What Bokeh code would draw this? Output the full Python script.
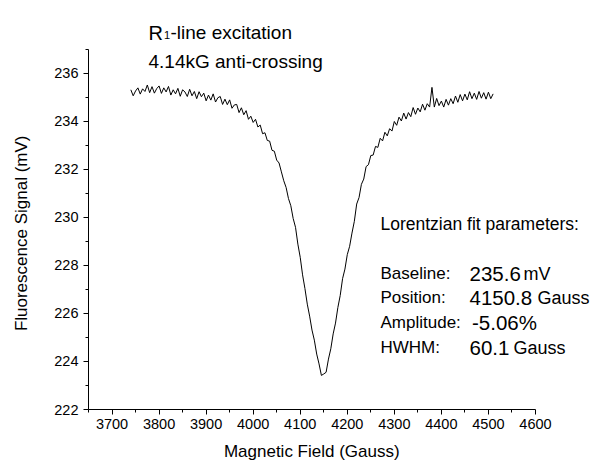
import numpy as np
from bokeh.plotting import figure
from bokeh.models import Range1d, FixedTicker, Label
from bokeh.embed import file_html
from bokeh.resources import INLINE

# ---------------- data ----------------
field_start = 3740
field_step = 5
signal_mv = [
    # 3740 - 4060
    235.32, 235.07, 235.27, 235.40, 235.14, 235.36, 235.25, 235.52, 235.20, 235.45,
    235.18, 235.37, 235.48, 235.17, 235.40, 235.23, 235.46, 235.10, 235.32, 235.15,
    235.38, 235.05, 235.32, 235.23, 235.04, 235.34, 235.07, 235.25, 234.95, 235.24,
    235.03, 235.18, 234.86, 235.10, 234.89, 235.15, 234.81, 234.99, 235.04, 234.71,
    234.93, 234.70, 234.90, 234.55, 234.69, 234.71, 234.37, 234.57, 234.28, 234.45,
    234.09, 234.22, 233.96, 234.09, 233.77, 233.85, 233.49, 233.53, 233.21, 233.18,
    232.80, 232.76, 232.39, 232.27, 231.90,
    # 4065 - 4235
    231.53, 231.25, 230.79, 230.49, 229.96, 229.59, 228.89, 228.34, 227.61, 227.04,
    226.39, 225.89, 225.31, 224.89, 224.31, 223.90, 223.42, 223.48, 223.55, 224.10,
    224.53, 225.15, 225.60, 226.25, 226.75, 227.45, 227.85, 228.45, 228.80, 229.35,
    229.84, 230.56, 230.83, 231.38, 231.60,
    # 4240 - 4510
    232.12, 232.20, 232.58, 232.60, 232.96, 232.92, 233.30, 233.19, 233.55, 233.40,
    233.70, 233.60, 234.00, 233.84, 234.18, 234.02, 234.35, 234.10, 234.37, 234.20,
    234.58, 234.30, 234.56, 234.40, 234.72, 234.47, 234.74, 234.60, 235.42, 234.60,
    234.96, 234.66, 234.85, 234.60, 234.92, 234.68, 234.95, 234.74, 235.06, 234.80,
    235.12, 234.86, 235.14, 234.90, 235.24, 234.95, 235.18, 234.92, 235.25, 234.97,
    235.20, 234.93, 235.22, 234.95, 235.15,
]
field_gauss = [field_start + i * field_step for i in range(len(signal_mv))]

x_major_ticks = [3700, 3800, 3900, 4000, 4100, 4200, 4300, 4400, 4500, 4600]
x_minor_ticks = [3650, 3750, 3850, 3950, 4050, 4150, 4250, 4350, 4450, 4550]
y_major_ticks = [222, 224, 226, 228, 230, 232, 234, 236]
y_minor_ticks = [223, 225, 227, 229, 231, 233, 235, 237]

x_title = "Magnetic Field (Gauss)"
y_title = "Fluorescence Signal (mV)"
title_line1_main = "R"
title_line1_sub = "1"
title_line1_rest = "-line excitation"
title_line2 = "4.14kG anti-crossing"
fit_heading = "Lorentzian fit parameters:"
fit_names = ["Baseline:", "Position:", "Amplitude:", "HWHM:"]
fit_values = ["235.6", "4150.8", "-5.06%", "60.1"]
fit_units = ["mV", "Gauss", "", "Gauss"]

FONT = "Liberation Sans"
NBSP = "\u00a0"

# frame spans the free space above/right of the axes so that texts are not clipped;
# the axes themselves are bounded to the data ranges of the original chart
p = figure(width=597, height=464, output_backend="svg", toolbar_location=None,
           x_range=Range1d(3650, 4729.7), y_range=Range1d(222, 239.04),
           min_border_left=88, min_border_right=1, min_border_top=0,
           min_border_bottom=55)
p.outline_line_color = None
p.xgrid.visible = False
p.ygrid.visible = False
p.background_fill_color = "white"
p.border_fill_color = "white"

p.line(field_gauss, signal_mv, line_color="black", line_width=1)

for ax, major, minor, bnds in ((p.xaxis[0], x_major_ticks, x_minor_ticks, (3650, 4600)),
                               (p.yaxis[0], y_major_ticks, y_minor_ticks, (222, 237))):
    ax.ticker = FixedTicker(ticks=major, minor_ticks=minor)
    ax.bounds = bnds
    ax.axis_line_color = "black"
    ax.axis_line_width = 1
    ax.major_tick_line_color = "black"
    ax.minor_tick_line_color = "black"
    ax.major_tick_out = 5
    ax.major_tick_in = 0
    ax.minor_tick_out = 3
    ax.minor_tick_in = 0
    ax.major_label_text_font = FONT
    ax.major_label_text_font_size = "14.5px"
    ax.major_label_text_color = "black"
    ax.axis_label_text_font = FONT
    ax.axis_label_text_font_size = "17px"
    ax.axis_label_text_font_style = "normal"
    ax.axis_label_text_color = "black"

# axis titles are centred on the (enlarged) frame: trailing no-break spaces
# shift the visible text back to the centre of the bounded axes
p.xaxis.axis_label = x_title + NBSP * 13
p.yaxis.axis_label = y_title + NBSP * 12
p.xaxis.major_label_standoff = 4
p.xaxis.axis_label_standoff = 10
p.yaxis.major_label_standoff = 5
p.yaxis.axis_label_standoff = 20


def add_text(txt, x, y, size):
    p.add_layout(Label(x=x, y=y, x_units="screen", y_units="screen", text=txt,
                       text_font=FONT, text_font_size=size, text_color="black",
                       text_baseline="alphabetic", text_align="left"))


# title block (frame-relative screen coordinates)
add_text(title_line1_main, 60, 377, "20px")
add_text(title_line1_sub, 75.5, 374.5, "11px")
add_text(title_line1_rest, 82, 377, "19px")
add_text(title_line2, 60, 348, "19px")

# fit parameter block
add_text(fit_heading, 292, 186, "17.5px")
row_y = [136, 112, 87, 62]
value_x = [381, 381, 383.5, 381]
unit_x = [435, 449, 0, 425]
for name, val, unit, yy, vx, ux in zip(fit_names, fit_values, fit_units, row_y, value_x, unit_x):
    add_text(name, 292, yy, "17px")
    add_text(val, vx, yy, "20.5px")
    if unit:
        add_text(unit, ux, yy, "18px")

open("out.html", "w").write(file_html(p, INLINE))
